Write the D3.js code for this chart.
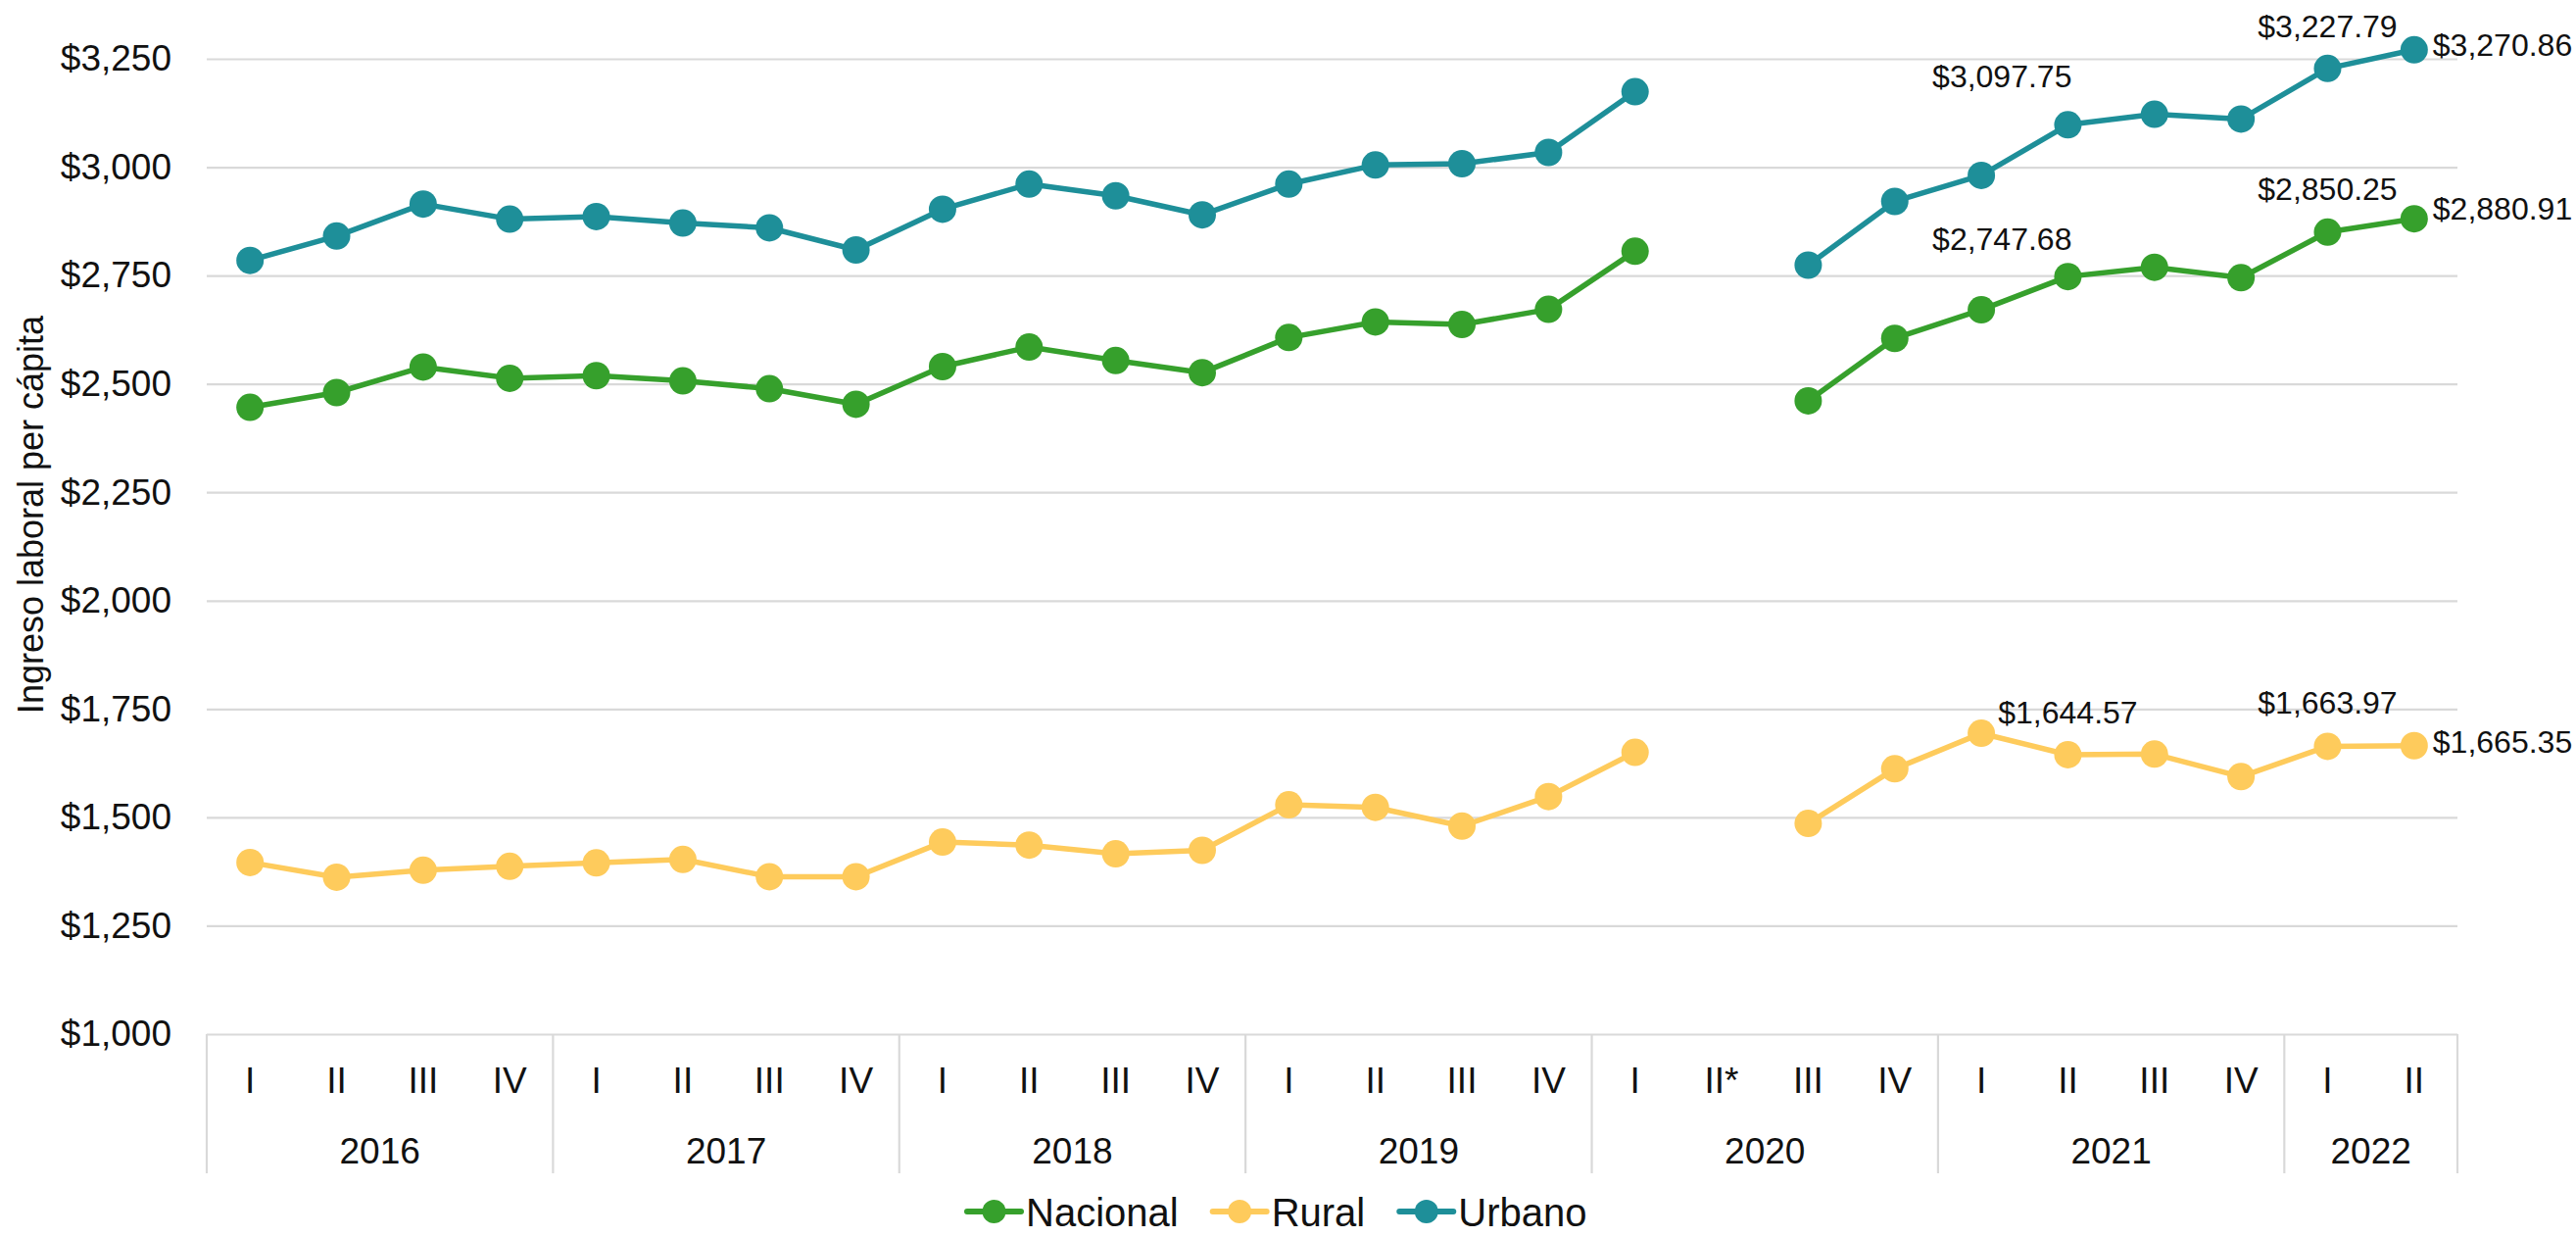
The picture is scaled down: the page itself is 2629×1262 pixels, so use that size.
<!DOCTYPE html>
<html>
<head>
<meta charset="utf-8">
<script src="https://cdn.jsdelivr.net/npm/d3@7"></script>
<style>
  body { margin: 0; background: #ffffff; }
  svg { display: block; }
  text { font-family: "Liberation Sans", Arial, Helvetica, sans-serif; fill: #111; }
</style>
</head>
<body>
<svg id="chart" width="2629" height="1262"></svg>
<script>
// ---------- DATA ----------
const years = ["2016", "2017", "2018", "2019", "2020", "2021", "2022"];
const quartersPerYear = [4, 4, 4, 4, 4, 4, 2];
const quarterLabels = [
  "I","II","III","IV",
  "I","II","III","IV",
  "I","II","III","IV",
  "I","II","III","IV",
  "I","II*","III","IV",
  "I","II","III","IV",
  "I","II"
];
const seriesNames = ["Nacional", "Rural", "Urbano"];
const nacional = [2446, 2480, 2539, 2513, 2519, 2507, 2489, 2453,
                  2540, 2585, 2554, 2526, 2607, 2643, 2637, 2672,
                  2806, null, 2461, 2605, 2671, 2747.68, 2769, 2745,
                  2850.25, 2880.91];
const rural    = [1396, 1362, 1378, 1387, 1395, 1403, 1363, 1363,
                  1443, 1436, 1416, 1424, 1529, 1523, 1480, 1548,
                  1650, null, 1486, 1612, 1694, 1644.57, 1646, 1594,
                  1663.97, 1665.35];
const urbano   = [2785, 2841, 2915, 2880, 2886, 2871, 2860, 2809,
                  2903, 2961, 2934, 2890, 2961, 3005, 3008, 3034,
                  3174, null, 2774, 2921, 2981, 3097.75, 3122, 3111,
                  3227.79, 3270.86];
const yTicks = [1000, 1250, 1500, 1750, 2000, 2250, 2500, 2750, 3000, 3250];
const yTitle = "Ingreso laboral per cápita";
// which points carry a value label (series index, category index)
const labelledPoints = [
  [2, 21], [0, 21], [1, 21],
  [2, 24], [0, 24], [1, 24],
  [2, 25], [0, 25], [1, 25]
];

// ---------- STYLE / LAYOUT ----------
const colors = ["#36a02c", "#fecb5c", "#1e8f99"];
const seriesData = [nacional, rural, urbano];
const plotLeft = 211, plotRight = 2508, plotTop = 60, plotBottom = 1055;

// label placement per labelled point (same order as labelledPoints)
const labelPlace = [
  {anchor: "end", dx: 4, dy: -38},
  {anchor: "end", dx: 4, dy: -27},
  {anchor: "middle", dx: 0, dy: -32},
  {anchor: "middle", dx: 0, dy: -32},
  {anchor: "middle", dx: 0, dy: -33},
  {anchor: "middle", dx: 0, dy: -33},
  {anchor: "start", dx: 19, dy: 6},
  {anchor: "start", dx: 19, dy: 1},
  {anchor: "start", dx: 19, dy: 7}
];

const svg = d3.select("#chart");

const x = d3.scaleBand()
  .domain(d3.range(quarterLabels.length))
  .range([plotLeft, plotRight])
  .paddingInner(0).paddingOuter(0);
const y = d3.scaleLinear().domain([1000, 3250]).range([plotBottom, plotTop]);
const cx = i => x(i) + x.bandwidth() / 2;

// ---------- GRID + Y AXIS ----------
const yAxis = d3.axisLeft(y)
  .tickValues(yTicks)
  .tickSize(-(plotRight - plotLeft))
  .tickPadding(36)
  .tickFormat(d => "$" + d3.format(",")(d));
const gy = svg.append("g").attr("transform", `translate(${plotLeft},0)`).call(yAxis);
gy.select(".domain").remove();
gy.selectAll(".tick line").attr("stroke", "#d9d9d9").attr("stroke-width", 2.2);
gy.selectAll(".tick text")
  .attr("font-size", 37)
  .attr("font-family", "Liberation Sans, Arial, sans-serif")
  .attr("fill", "#111");

svg.append("text")
  .attr("transform", `translate(44,525) rotate(-90)`)
  .attr("text-anchor", "middle")
  .attr("font-size", 36)
  .text(yTitle);

// ---------- X AXIS (two level) ----------
const gx = svg.append("g");
const bounds = [0];
quartersPerYear.reduce((acc, n) => { bounds.push(acc + n); return acc + n; }, 0);
const bx = b => b < quarterLabels.length ? x(b) : plotRight;
gx.selectAll("line.sep").data(bounds).join("line")
  .attr("class", "sep")
  .attr("x1", bx).attr("x2", bx)
  .attr("y1", plotBottom).attr("y2", 1197)
  .attr("stroke", "#d9d9d9").attr("stroke-width", 2.2);

gx.selectAll("text.q").data(quarterLabels).join("text")
  .attr("class", "q")
  .attr("x", (d, i) => cx(i))
  .attr("y", 1115)
  .attr("text-anchor", "middle")
  .attr("font-size", 37)
  .text(d => d);

gx.selectAll("text.yr").data(years).join("text")
  .attr("class", "yr")
  .attr("x", (d, k) => (bx(bounds[k]) + bx(bounds[k + 1])) / 2)
  .attr("y", 1187)
  .attr("text-anchor", "middle")
  .attr("font-size", 37)
  .text(d => d);

// ---------- LINES + MARKERS ----------
const line = d3.line()
  .defined(d => d != null)
  .x((d, i) => cx(i))
  .y(d => y(d));

seriesData.forEach((vals, s) => {
  const g = svg.append("g");
  g.append("path")
    .attr("d", line(vals))
    .attr("fill", "none")
    .attr("stroke", colors[s])
    .attr("stroke-width", 5.5)
    .attr("stroke-linejoin", "round");
  g.selectAll("circle")
    .data(vals.map((v, i) => ({v, i})).filter(d => d.v != null))
    .join("circle")
    .attr("cx", d => cx(d.i))
    .attr("cy", d => y(d.v))
    .attr("r", 14)
    .attr("fill", colors[s]);
});

// ---------- DATA LABELS ----------
const fmt = v => "$" + d3.format(",.2f")(v);
svg.append("g").selectAll("text")
  .data(labelledPoints.map((p, k) => ({s: p[0], i: p[1], place: labelPlace[k]})))
  .join("text")
  .attr("x", d => cx(d.i) + d.place.dx)
  .attr("y", d => y(seriesData[d.s][d.i]) + d.place.dy)
  .attr("text-anchor", d => d.place.anchor)
  .attr("font-size", 32)
  .text(d => fmt(seriesData[d.s][d.i]));

// ---------- LEGEND ----------
const lg = svg.append("g");
let lx = 987;
const ly = 1236;
seriesNames.forEach((name, s) => {
  lg.append("line")
    .attr("x1", lx).attr("x2", lx + 55)
    .attr("y1", ly).attr("y2", ly)
    .attr("stroke", colors[s]).attr("stroke-width", 6)
    .attr("stroke-linecap", "round");
  lg.append("circle")
    .attr("cx", lx + 27.5).attr("cy", ly).attr("r", 12)
    .attr("fill", colors[s]);
  const t = lg.append("text")
    .attr("x", lx + 60).attr("y", 1251)
    .attr("font-size", 40)
    .text(name);
  lx = lx + 60 + t.node().getComputedTextLength() + 35;
});
</script>
</body>
</html>
